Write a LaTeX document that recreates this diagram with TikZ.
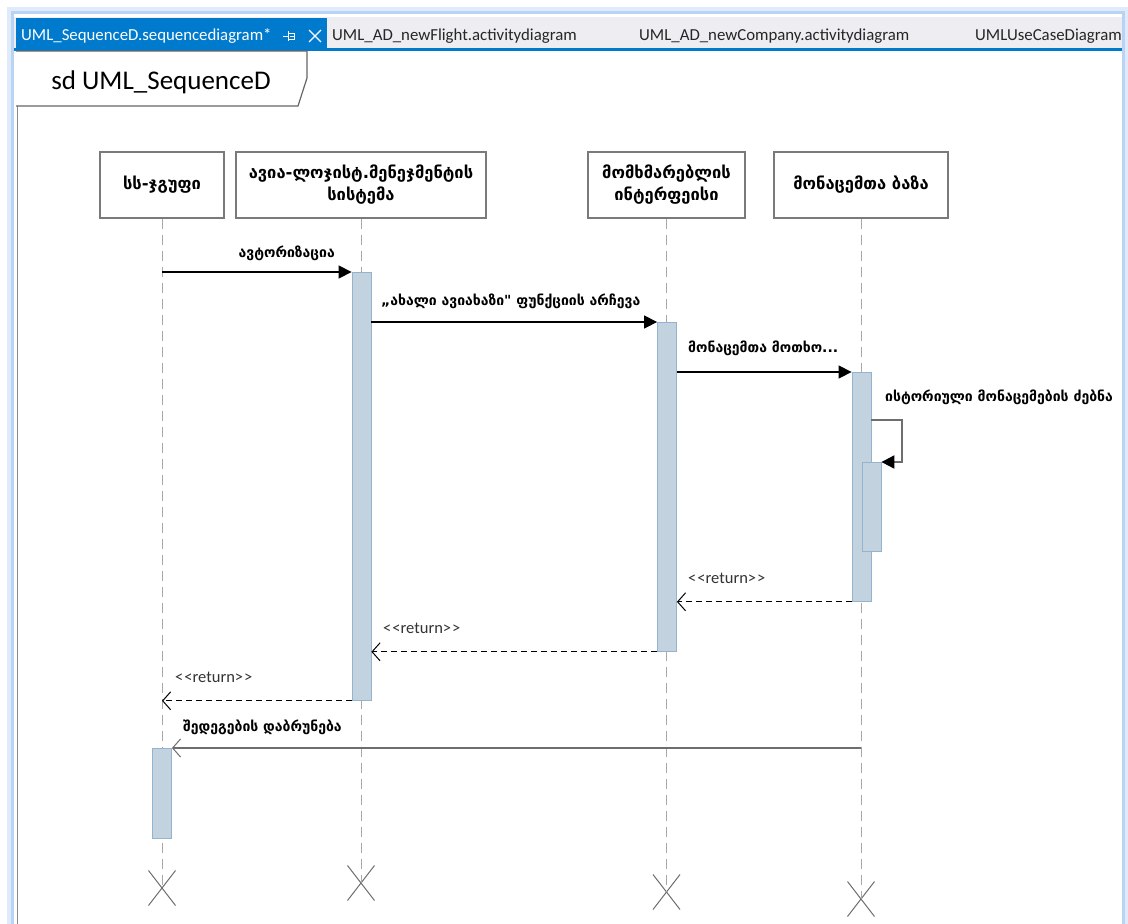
\documentclass[tikz,border=0pt]{standalone}
\usepackage{fontspec}
\setmainfont{Carlito}
\newfontfamily\geo{DejaVu Sans}
\usetikzlibrary{arrows.meta,calc,shapes.misc}

\definecolor{tabblue}{HTML}{007ACC}
\definecolor{tabgray}{HTML}{EEEEF2}
\definecolor{glow}{HTML}{B9D3F3}
\definecolor{headline}{HTML}{7A7A7A}
\definecolor{actfill}{HTML}{C2D2DE}
\definecolor{actline}{HTML}{93B3CE}
\definecolor{lifeline}{HTML}{A8A8A8}
\definecolor{msggray}{HTML}{6E6E6E}

\newcommand{\retname}{{<}\kern1pt{<}return{>}\kern1pt{>}}

\begin{document}
\begin{tikzpicture}[x=1pt,y=-1pt,
  head/.style={draw=headline, line width=1.3pt, fill=white, minimum height=66pt,
    align=center, inner sep=2pt, font=\geo\bfseries\fontsize{16.5}{22}\selectfont},
  act/.style={draw=actline, fill=actfill, line width=0.8pt, minimum width=19pt,
    inner sep=0pt, anchor=north},
  life/.style={draw=lifeline, line width=0.9pt, dash pattern=on 10pt off 6pt},
  endmark/.style={draw=msggray, cross out, line width=1pt, minimum width=26pt,
    minimum height=34pt, inner sep=0pt},
  call/.style={line width=1.3pt, -{Triangle[length=13pt,width=13pt]}},
  ret/.style={line width=1.3pt, dash pattern=on 6pt off 4pt,
    -{Straight Barb[length=8pt,width=18pt,line width=1pt]}},
  reply/.style={draw=msggray, line width=2pt,
    -{Straight Barb[length=8pt,width=18pt,line width=1pt]}},
  selfcall/.style={draw=msggray, line width=2pt,
    -{Triangle[length=13pt,width=13pt,color=black]}},
  msg/.style={font=\geo\bfseries\fontsize{14}{16}\selectfont, inner sep=0pt},
  retlbl/.style={font=\fontsize{16.5}{18}\selectfont, text=black!80, inner sep=0pt},
  tab/.style={font=\fontsize{16.8}{20}\selectfont, anchor=west, inner sep=0pt}
]
\useasboundingbox (0,0) rectangle (1128,924);

% window glow and frame
\fill[white] (0,0) rectangle (1128,924);
\draw[glow!45, line width=8pt] (11,11) rectangle (1125,960);
\draw[glow, line width=3pt] (12.5,12.5) rectangle (1123.5,960);
\fill[white] (14,14) rectangle (1122,940);

% tab strip
\fill[tabgray] (14,17) rectangle (1122,48);
\fill[tabblue] (14,48) rectangle (1122,51);
\fill[tabblue] (16,18) rectangle (327,51);
\node[tab, text=white] (t1) at (21,36) {UML\_SequenceD.sequencediagram*};
\draw[white, line width=1pt] (283,36) -- (288,36) (288,31) -- (288,41)
  (288,33) -- (294,33) -- (294,39) -- (288,39) (290,36) -- (294,36);
\draw[white, line width=1.3pt] (309,30) -- (321,42) (321,30) -- (309,42);
\node[tab, text=black!85] (t2) at (332,36) {UML\_AD\_newFlight.activitydiagram};
\node[tab, text=black!85] (t3) at (639,36) {UML\_AD\_newCompany.activitydiagram};
\begin{scope}
\clip (14,17) rectangle (1122,48);
\node[tab, text=black!85] (t4) at (975,36) {UMLUseCaseDiagram};
\end{scope}

% frame of the interaction and its name tag
\draw[black!45, line width=1pt] (17,51) -- (17,924);
\draw[black!60, line width=1.2pt, fill=white]
  (16,51) -- (307,51) -- (307,78) -- (298,106) -- (16,106);
\node[font=\fontsize{27}{30}\selectfont, inner sep=0pt] (sd) at (161,82) {sd UML\_SequenceD};

% lifeline heads
\node[head, minimum width=124pt] (h1) at (162,185) {სს-ჯგუფი};
\node[head, minimum width=250pt] (h2) at (361,185) {ავია-ლოჯისტ.მენეჯმენტის\\სისტემა};
\node[head, minimum width=157pt] (h3) at (666.5,185) {მომხმარებლის\\ინტერფეისი};
\node[head, minimum width=174pt] (h4) at (861,185) {მონაცემთა ბაზა};

% destruction marks
\node[endmark] (x1) at (162,888) {};
\node[endmark] (x2) at (361,883) {};
\node[endmark] (x3) at (666.5,892) {};
\node[endmark] (x4) at (861,899) {};

% lifelines
\draw[life] (h1.south) -- (x1.center);
\draw[life] (h2.south) -- (x2.center);
\draw[life] (h3.south) -- (x3.center);
\draw[life] (h4.south) -- (x4.center);

% activation bars
\node[act, minimum height=90pt]  (a1) at (162,748) {};
\node[act, minimum height=428pt] (a2) at (361.5,272) {};
\node[act, minimum height=329pt] (a3) at (667,322) {};
\node[act, minimum height=229pt] (a4) at (861.5,372) {};
\node[act, minimum height=89pt]  (a5) at (871.5,462) {};

% calls
\draw[call] (h1.south |- a2.north west) -- (a2.north west);
\node[msg, anchor=east] (l1) at (335,253) {ავტორიზაცია};

\draw[call] (a2.east |- a3.north) -- (a3.north west);
\node[msg, anchor=west] (l2) at (381,301) {„ახალი ავიახაზი" ფუნქციის არჩევა};

\draw[call] (a3.east |- a4.north) -- (a4.north west);
\node[msg, anchor=west] (l3) at (688,348) {მონაცემთა მოთხო...};

\coordinate (selfout) at (a4.east |- 0,420);
\draw[selfcall] (selfout) -- ++(31,0) |- (a5.north east);
\node[msg, anchor=west] (l4) at (885,397) {ისტორიული მონაცემების ძებნა};

% returns
\draw[ret] (a4.south west) -- (a3.east |- a4.south);
\node[retlbl, anchor=west] (r1) at (688,578) {\retname};

\draw[ret] (a3.south west) -- (a2.east |- a3.south);
\node[retlbl, anchor=west] (r2) at (383,628) {\retname};

\draw[ret] (a2.south west) -- (h1.south |- a2.south);
\node[retlbl, anchor=west] (r3) at (175,677) {\retname};

\draw[reply] (h4.south |- a1.north) -- (a1.north east);
\node[msg, anchor=west] (l5) at (183,727) {შედეგების დაბრუნება};
\end{tikzpicture}
\end{document}
